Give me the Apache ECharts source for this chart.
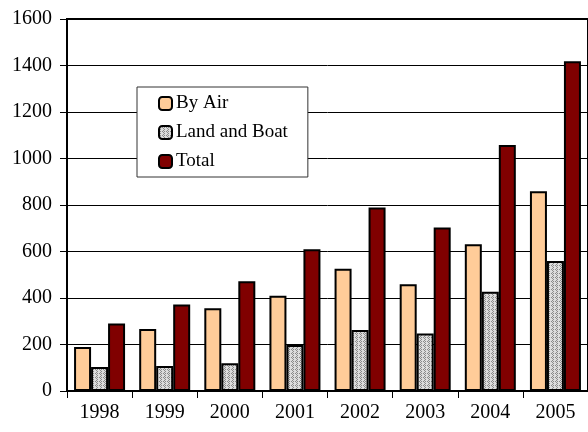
<!DOCTYPE html>
<html><head><meta charset="utf-8">
<script src="https://cdn.jsdelivr.net/npm/echarts@6/dist/echarts.min.js"></script>
<style>html,body{margin:0;padding:0;background:#fff}#c{width:588px;height:432px}</style>
</head><body><div id="c"></div>
<script>
var years = ['1998','1999','2000','2001','2002','2003','2004','2005'];
var byAir = [189, 267, 356, 410, 526, 459, 631, 859];
var landBoat = [103, 107, 119, 198, 262, 247, 427, 559];
var total = [290, 372, 472, 610, 789, 703, 1058, 1418];
var seriesNames = ['By Air', 'Land and Boat', 'Total'];

var pc = document.createElement('canvas');
pc.width = 4; pc.height = 4;
var g = pc.getContext('2d');
g.fillStyle = '#dcdcdc'; g.fillRect(0,0,4,4);
g.fillStyle = '#8a8a8a';
[[0,0],[2,0],[1,1],[3,1],[0,2],[2,2],[1,3],[3,3]].forEach(function(p,i){ if(i%2===0||i===3||i===6) g.fillRect(p[0],p[1],1,1); });
var pattern = {image: pc, repeat: 'repeat'};

var font = 'Liberation Serif';
var chart = echarts.init(document.getElementById('c'), null, {renderer:'canvas'});
var border = {borderColor:'#000', borderWidth:2};
chart.setOption({
  animation:false,
  textStyle:{fontFamily:font, color:'#000'},
  grid:{left:67, top:19, width:528, height:372, show:true, borderColor:'#000', borderWidth:2, backgroundColor:'transparent'},
  legend:{
    orient:'vertical', left:137, top:87,
    backgroundColor:'#fff', borderColor:'#333', borderWidth:1,
    padding:[7,20,6,21], itemWidth:13, itemHeight:13, itemGap:10,
    textStyle:{fontFamily:font, fontSize:19, color:'#000', padding:[0,0,0,-1]},
    data:seriesNames
  },
  xAxis:{
    type:'category', data:years,
    axisLine:{lineStyle:{color:'#000', width:2}},
    axisTick:{show:true, length:7, lineStyle:{color:'#000', width:1}},
    axisLabel:{fontFamily:font, fontSize:20, color:'#000', margin:12}
  },
  yAxis:{
    type:'value', min:0, max:1600, interval:200,
    axisLine:{show:true, lineStyle:{color:'#000', width:2}},
    axisTick:{show:true, length:7, lineStyle:{color:'#000', width:1}},
    axisLabel:{fontFamily:font, fontSize:20, color:'#000', margin:15, formatter:function(v){return String(v);}},
    splitLine:{show:true, lineStyle:{color:'#000', width:1}}
  },
  series:[
    {name:seriesNames[0], type:'bar', data:byAir, barWidth:17, barGap:'0%', itemStyle:Object.assign({color:'#FFCC99'}, border)},
    {name:seriesNames[1], type:'bar', data:landBoat, barWidth:17, barGap:'0%', itemStyle:Object.assign({color:pattern}, border)},
    {name:seriesNames[2], type:'bar', data:total, barWidth:17, barGap:'0%', itemStyle:Object.assign({color:'#800000'}, border)}
  ]
});
</script></body></html>
